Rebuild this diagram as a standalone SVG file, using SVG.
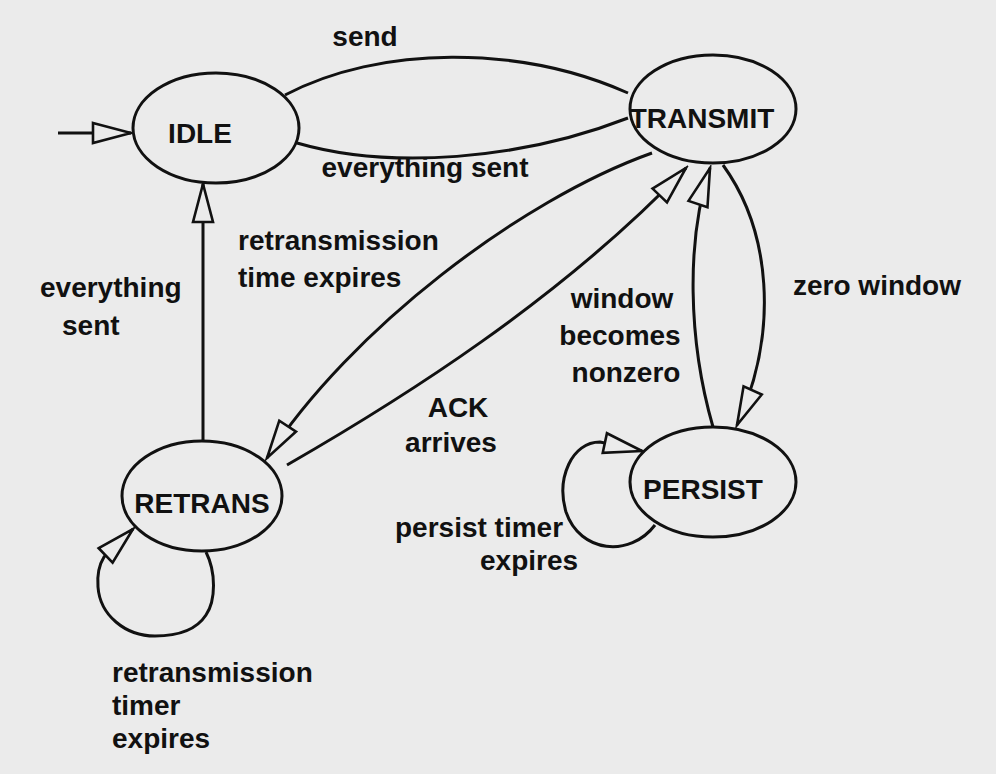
<svg xmlns="http://www.w3.org/2000/svg" width="996" height="774" viewBox="0 0 996 774">
<style>
  .node { fill: none; stroke: #111; stroke-width: 3; }
  .edge { fill: none; stroke: #111; stroke-width: 3; }
  .lbl { font-family: "Liberation Sans", Arial, sans-serif; font-size: 28px; font-weight: bold; fill: #111; }
  .mid { text-anchor: middle; }
</style>
<defs>
  <marker id="open" markerUnits="userSpaceOnUse" viewBox="-41 -13 44 26" markerWidth="44" markerHeight="26" refX="0" refY="0" orient="auto">
    <path d="M-38,-10 L0,0 L-38,10 Z" fill="#ebebeb" stroke="#111" stroke-width="2.6" stroke-linejoin="miter"/>
  </marker>
</defs>
<rect x="0" y="0" width="996" height="774" fill="#ebebeb"/>

<g id="connectors">
  <path class="edge" d="M58,133 L131,133" marker-end="url(#open)"/>
  <path class="edge" d="M285,95 C380,45 520,45 628,93"/>
  <path class="edge" d="M628,118 C520,160 390,170 297,143"/>
  <path class="edge" d="M203,442 L203,184" marker-end="url(#open)"/>
  <path class="edge" d="M652,153 C520,200 350,330 267,458" marker-end="url(#open)"/>
  <path class="edge" d="M287,465 C400,400 560,300 686,168" marker-end="url(#open)"/>
  <path class="edge" d="M713,427 C688,340 686,240 710,168" marker-end="url(#open)"/>
  <path class="edge" d="M723,165 C770,230 780,330 737,425" marker-end="url(#open)"/>
  <path class="edge" d="M206,552 C216,572 216,600 206,615 C195,632 175,636 155,636 C125,636 100,615 98,587 C97,575 99,565 104,557 L133,529" marker-end="url(#open)"/>
  <path class="edge" d="M655,525 C630,558 580,553 566,512 C556,478 572,442 600,442 L642,451" marker-end="url(#open)"/>
</g>

<g id="labels">
  <text class="lbl mid" x="365" y="46">send</text>
  <text class="lbl mid" x="425" y="177">everything sent</text>
  <text class="lbl" x="238" y="250">retransmission</text>
  <text class="lbl" x="238" y="287">time expires</text>
  <text class="lbl" x="40" y="297">everything</text>
  <text class="lbl" x="62" y="335">sent</text>
  <text class="lbl mid" x="458" y="417">ACK</text>
  <text class="lbl mid" x="451" y="452">arrives</text>
  <text class="lbl mid" x="622" y="308">window</text>
  <text class="lbl mid" x="620" y="345">becomes</text>
  <text class="lbl mid" x="626" y="382">nonzero</text>
  <text class="lbl" x="793" y="295">zero window</text>
  <text class="lbl" x="395" y="537">persist timer</text>
  <text class="lbl" x="480" y="570">expires</text>
  <text class="lbl" x="112" y="682">retransmission</text>
  <text class="lbl" x="112" y="715">timer</text>
  <text class="lbl" x="112" y="748">expires</text>
</g>

<g id="IDLE">
  <ellipse class="node" cx="216" cy="128" rx="83" ry="55"/>
  <text class="lbl mid" x="200" y="143">IDLE</text>
</g>
<g id="TRANSMIT">
  <ellipse class="node" cx="713" cy="109" rx="83" ry="54"/>
  <text class="lbl mid" x="702" y="128">TRANSMIT</text>
</g>
<g id="RETRANS">
  <ellipse class="node" cx="202" cy="496" rx="80" ry="55"/>
  <text class="lbl mid" x="202" y="513">RETRANS</text>
</g>
<g id="PERSIST">
  <ellipse class="node" cx="713" cy="482" rx="83" ry="55"/>
  <text class="lbl mid" x="703" y="499">PERSIST</text>
</g>
</svg>
